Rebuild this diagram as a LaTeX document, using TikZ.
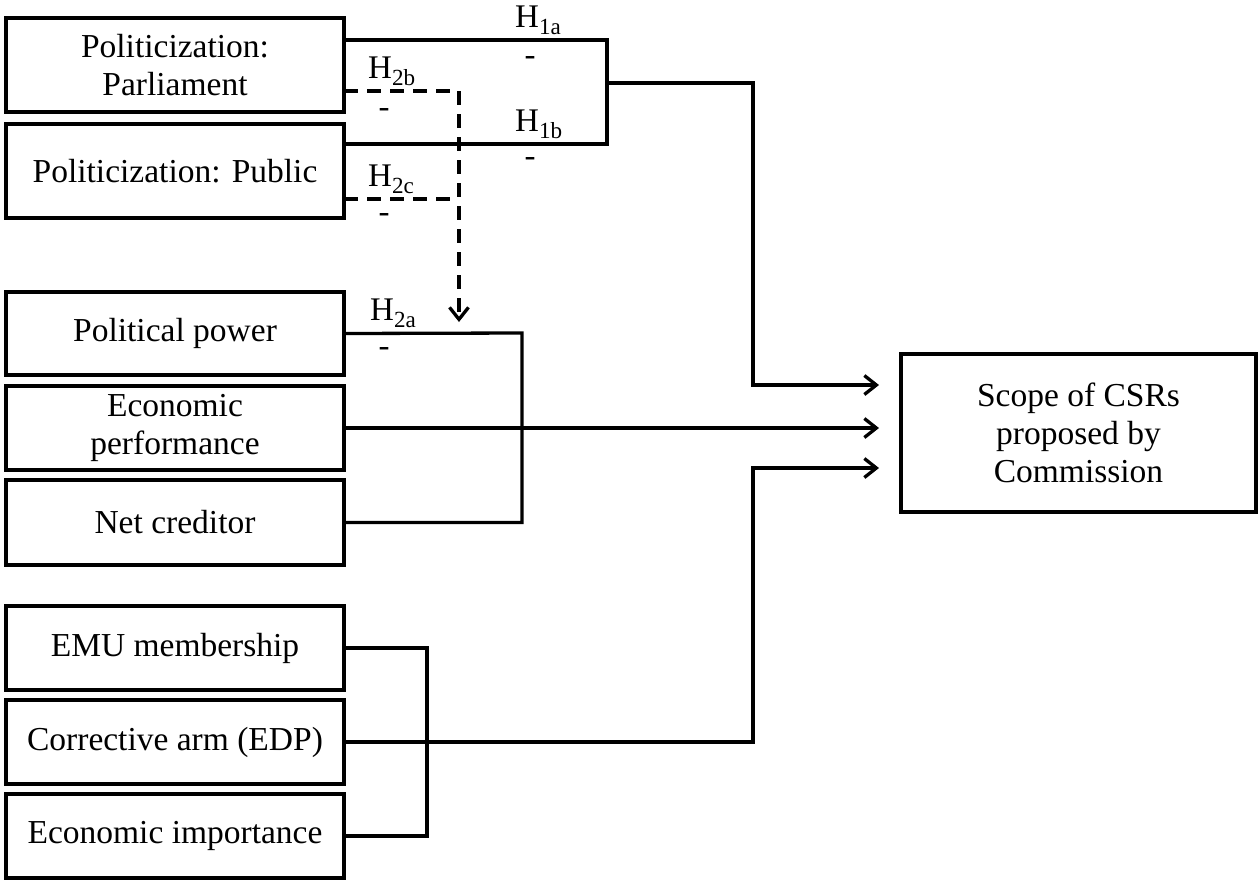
\documentclass[tikz,border=0pt]{standalone}
\usepackage{fontspec}
\setmainfont{Liberation Serif}
\usetikzlibrary{arrows.meta}
\begin{document}
\begin{tikzpicture}[x=1pt,y=-1pt,
  box/.style={draw,line width=3.3pt,minimum width=338pt,outer sep=0pt,inner sep=0pt,align=center,font=\fontsize{33.5}{38}\selectfont},
  conn/.style={line width=3.3pt},
  arr/.style={conn,-{Straight Barb[length=12pt,width=19pt]}},
  dsh/.style={conn,dash pattern=on 14pt off 9pt},
  hlab/.style={anchor=south west,inner sep=0pt,font=\fontsize{33}{38}\selectfont},
  mlab/.style={inner sep=0pt,font=\fontsize{33}{38}\selectfont}]
\useasboundingbox (0,0) rectangle (1259,879);
\node[box,minimum height=94pt] (pp) at (175,65) {Politicization:\\Parliament};
\node[box,minimum height=94pt] (pu) at (175,171) {Politicization: Public};
\node[box,minimum height=83pt] (pow) at (175,333.5) {Political power};
\node[box,minimum height=84pt] (eco) at (175,428) {Economic\\performance};
\node[box,minimum height=85pt] (net) at (175,522.5) {Net creditor};
\node[box,minimum height=84pt] (emu) at (175,648) {EMU membership};
\node[box,minimum height=84pt] (cor) at (175,742) {Corrective arm (EDP)};
\node[box,minimum height=84pt] (imp) at (175,836) {Economic importance};
\node[box,minimum width=355pt,minimum height=158pt] (scope) at (1078.5,433) {Scope of CSRs\\proposed by\\Commission};

\coordinate (j1) at (607,40);
\coordinate (j2) at (607,144);
\coordinate (j1o) at (607,83);
\coordinate (t1) at (753,385);
\coordinate (d1) at (459,91);
\coordinate (d2) at (459,199);
\coordinate (dt) at (459,322);
\coordinate (k1) at (522,333);
\coordinate (m1) at (427,648);
\coordinate (c2) at (753,742);
\coordinate (t3) at (753,468);

\draw[conn] (pp.east |- j1) -- (j1) -- (j2) -- (pu.east |- j2);
\draw[arr,shorten >=22pt] (j1o) -| (t1) -- (t1 -| scope.west);
\draw[dsh,arr] (pp.east |- d1) -- (d1) -- (dt);
\draw[dsh] (pu.east |- d2) -- (d2);
\draw[conn] (pow.east) -- (k1) -- (k1 |- net.east) -- (net.east);
\draw[arr,shorten >=22pt] (eco.east) -- (eco.east -| scope.west);
\draw[conn] (emu.east) -- (m1) -- (m1 |- imp.east) -- (imp.east);
\draw[arr,shorten >=22pt] (cor.east) -- (c2) -- (t3) -- (t3 -| scope.west);

\node[hlab] (l1a) at (515,35) {H\textsubscript{1a}};
\node[hlab] (l1b) at (515,139) {H\textsubscript{1b}};
\node[hlab] (l2b) at (368,86) {H\textsubscript{2b}};
\node[hlab] (l2c) at (368,194) {H\textsubscript{2c}};
\node[hlab] (l2a) at (370,328) {H\textsubscript{2a}};
\node[mlab] (n1a) at (530,61) {-};
\node[mlab] (n1b) at (530,162) {-};
\node[mlab] (n2b) at (384,113) {-};
\node[mlab] (n2c) at (384,218) {-};
\node[mlab] (n2a) at (384,352) {-};
\end{tikzpicture}
\end{document}
